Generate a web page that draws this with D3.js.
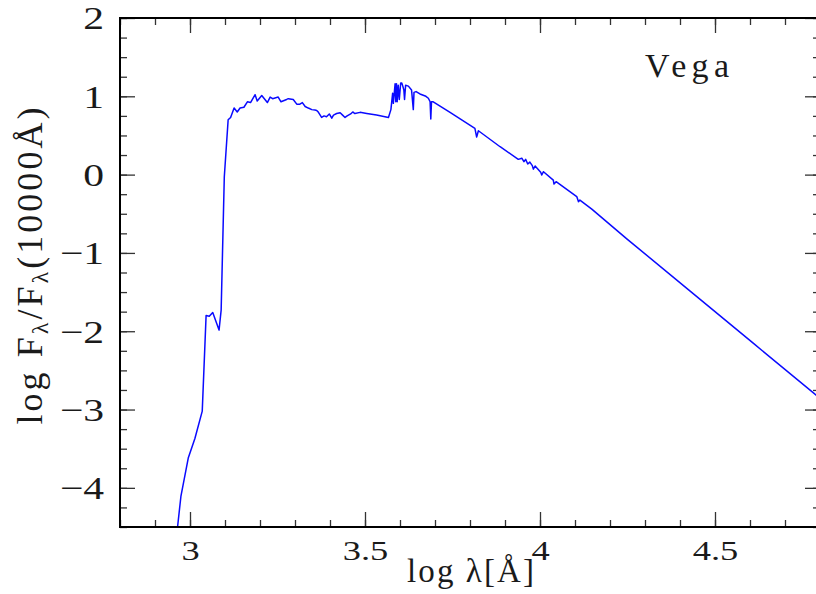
<!DOCTYPE html>
<html>
<head>
<meta charset="utf-8">
<script src="https://cdn.jsdelivr.net/npm/d3@7"></script>
<style>
    body { margin: 0; background: #fff; }
    text { font-family: "Liberation Serif", "Times New Roman", serif; fill: #1a1a1a; }
</style>
</head>
<body>
<div id="sed-vis"></div>
<script>
// Vega spectral energy distribution, log lambda vs log flux (normalised at 10000 A)
const logLambda = [
    2.962, 2.974, 2.995, 3.014, 3.035, 3.046, 3.055, 3.065, 3.083, 3.089,
    3.098, 3.109, 3.116, 3.126, 3.135, 3.143, 3.154, 3.164, 3.173, 3.186,
    3.192, 3.205, 3.221, 3.229, 3.236, 3.252, 3.260, 3.276, 3.281, 3.295,
    3.305, 3.314, 3.321, 3.329, 3.338, 3.348, 3.357, 3.362, 3.367, 3.376,
    3.383, 3.390, 3.398, 3.405, 3.410, 3.419, 3.429, 3.436, 3.443, 3.449,
    3.459, 3.465, 3.471, 3.486, 3.505, 3.533, 3.557, 3.567, 3.574, 3.579,
    3.581, 3.584, 3.586, 3.588, 3.590, 3.592, 3.595, 3.598, 3.602, 3.605,
    3.608, 3.611, 3.613, 3.616, 3.624, 3.633, 3.638, 3.640, 3.646, 3.657,
    3.674, 3.681, 3.686, 3.688, 3.690, 3.695, 3.743, 3.814, 3.819, 3.824,
    3.886, 3.938, 3.948, 3.954, 3.959, 3.965, 3.971, 3.978, 3.981, 3.986,
    4.002, 4.005, 4.010, 4.038, 4.040, 4.046, 4.105, 4.110, 4.114, 4.148,
    4.248, 4.429, 4.610, 4.800
];
const logFlux = [
    -4.60, -4.11, -3.62, -3.37, -3.02, -1.80, -1.81, -1.76, -1.985, -1.73,
    -0.03, 0.70, 0.73, 0.85, 0.80, 0.85, 0.86, 0.93, 0.92, 1.02,
    0.94, 1.01, 0.92, 0.99, 0.97, 0.99, 0.93, 0.96, 0.97, 0.96,
    0.90, 0.90, 0.92, 0.87, 0.85, 0.83, 0.825, 0.82, 0.795, 0.73,
    0.75, 0.74, 0.775, 0.72, 0.76, 0.78, 0.79, 0.76, 0.73, 0.75,
    0.775, 0.80, 0.78, 0.795, 0.78, 0.76, 0.74, 0.73, 0.83, 1.04,
    0.91, 1.06, 1.16, 0.93, 1.16, 0.93, 1.14, 0.96, 1.17, 1.17,
    1.13, 1.08, 0.96, 1.14, 1.13, 1.08, 0.83, 1.05, 1.06, 1.03,
    1.00, 0.975, 0.93, 0.71, 0.93, 0.93, 0.795, 0.59, 0.48, 0.56,
    0.356, 0.195, 0.21, 0.165, 0.195, 0.135, 0.16, 0.115, 0.07, 0.11,
    0.03, -0.005, 0.037, -0.07, -0.12, -0.09, -0.28, -0.345, -0.325, -0.44,
    -0.82, -1.488, -2.156, -2.857
];

const xMajorTicks = [3, 3.5, 4, 4.5];
const yMajorTicks = [2, 1, 0, -1, -2, -3, -4];
const yMinorTicks = [-4.5, -4.25, -4, -3.75, -3.5, -3.25, -3, -2.75, -2.5, -2.25, -2, -1.75,
    -1.5, -1.25, -1, -0.75, -0.5, -0.25, 0, 0.25, 0.5, 0.75, 1, 1.25, 1.5, 1.75, 2];

const config = {
    width: 816,
    height: 594,
    padding: { left: 120, top: 18, right: -4, bottom: 67 }
};
const plotW = config.width - config.padding.left - config.padding.right;
const plotH = config.height - config.padding.top - config.padding.bottom;

const x = d3.scaleLinear().domain([2.8, 4.8]).range([config.padding.left, config.padding.left + plotW]);
const y = d3.scaleLinear().domain([-4.5, 2]).range([config.padding.top + plotH, config.padding.top]);

const svg = d3.select('#sed-vis')
    .append('svg')
    .attr('width', config.width)
    .attr('height', config.height)
    ;

svg.append('defs').append('clipPath')
    .attr('id', 'plot-clip')
    .append('rect')
    .attr('x', x.range()[0])
    .attr('y', y.range()[1])
    .attr('width', plotW)
    .attr('height', plotH)
    ;

// the spectrum
const points = logLambda.map((d, i) => [d, logFlux[i]]);
svg.append('path')
    .datum(points)
    .attr('clip-path', 'url(#plot-clip)')
    .attr('fill', 'none')
    .attr('stroke', '#0a0aff')
    .attr('stroke-width', 1.5)
    .attr('stroke-linejoin', 'round')
    .attr('d', d3.line().x(d => x(d[0])).y(d => y(d[1])))
    ;

// ticks on all four sides, pointing inward
function styleTicks(g) {
    g.select('.domain').remove();
    g.selectAll('.tick line').attr('stroke', '#333').attr('stroke-width', 1.3);
}
const yBottom = y.range()[0];
const yTop = y.range()[1];
const xLeft = x.range()[0];
const xRight = x.range()[1];

svg.append('g')
    .attr('transform', `translate(0, ${yBottom})`)
    .call(d3.axisBottom(x).ticks(20).tickSize(-7).tickFormat(''))
    .call(styleTicks);
svg.append('g')
    .attr('transform', `translate(0, ${yTop})`)
    .call(d3.axisTop(x).ticks(20).tickSize(-7).tickFormat(''))
    .call(styleTicks);
svg.append('g')
    .attr('transform', `translate(${xLeft}, 0)`)
    .call(d3.axisLeft(y).tickValues(yMinorTicks).tickSize(-7).tickFormat(''))
    .call(styleTicks);
svg.append('g')
    .attr('transform', `translate(${xRight}, 0)`)
    .call(d3.axisRight(y).tickValues(yMinorTicks).tickSize(-7).tickFormat(''))
    .call(styleTicks);

const xAxis = svg.append('g')
    .attr('transform', `translate(0, ${yBottom})`)
    .call(d3.axisBottom(x).tickValues(xMajorTicks).tickSize(-15).tickFormat(d3.format('')))
    .call(styleTicks);
xAxis.selectAll('text')
    .attr('y', 33)
    .attr('dy', 0)
    .attr('transform', 'scale(1.35,1)')
    .style('font-size', '27px')
    ;
svg.append('g')
    .attr('transform', `translate(0, ${yTop})`)
    .call(d3.axisTop(x).tickValues(xMajorTicks).tickSize(-15).tickFormat(''))
    .call(styleTicks);

const yAxis = svg.append('g')
    .attr('transform', `translate(${xLeft}, 0)`)
    .call(d3.axisLeft(y).tickValues(yMajorTicks).tickSize(-15).tickFormat(d3.format('')))
    .call(styleTicks);
yAxis.selectAll('text')
    .attr('x', -16 / 1.3)
    .attr('dy', '0.34em')
    .attr('transform', 'scale(1.3,1)')
    .style('font-size', '32px')
    ;
svg.append('g')
    .attr('transform', `translate(${xRight}, 0)`)
    .call(d3.axisRight(y).tickValues(yMajorTicks).tickSize(-15).tickFormat(''))
    .call(styleTicks);

// frame
svg.append('rect')
    .attr('x', xLeft)
    .attr('y', yTop)
    .attr('width', plotW)
    .attr('height', plotH)
    .attr('fill', 'none')
    .attr('stroke', '#000')
    .attr('stroke-width', 2)
    ;

// axis titles
svg.append('text')
    .attr('x', 407)
    .attr('y', 582)
    .attr('textLength', 127)
    .attr('lengthAdjust', 'spacing')
    .style('font-size', '33px')
    .text('log  λ[Å]')
    ;

const yTitle = svg.append('text')
    .attr('transform', 'translate(42, 266) rotate(-90)')
    .attr('text-anchor', 'middle')
    .attr('textLength', 317)
    .attr('lengthAdjust', 'spacing')
    .style('font-size', '36px')
    ;
yTitle.append('tspan').text('log  F');
yTitle.append('tspan').attr('dy', 6).style('font-size', '24px').text('λ');
yTitle.append('tspan').attr('dy', -6).text('/F');
yTitle.append('tspan').attr('dy', 6).style('font-size', '24px').text('λ');
yTitle.append('tspan').attr('dy', -6).text('(10000Å)');

svg.append('text')
    .attr('x', 645)
    .attr('y', 77)
    .attr('textLength', 84)
    .attr('lengthAdjust', 'spacing')
    .style('font-size', '34px')
    .text('Vega')
    ;
</script>
</body>
</html>
